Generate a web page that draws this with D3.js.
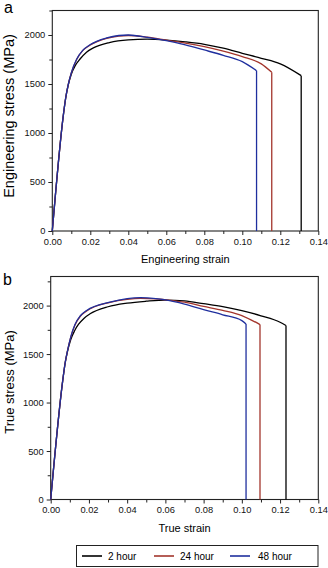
<!DOCTYPE html>
<html>
<head>
<meta charset="utf-8">
<script src="https://cdn.jsdelivr.net/npm/d3@7"></script>
<style>
  body { margin: 0; background: #fff; }
  svg { display: block; font-family: "Liberation Sans", Arial, sans-serif; }
  .axis text { font-size: 9.3px; fill: #111; }
  .axis line { stroke: #222; }
</style>
</head>
<body>
<div id="chart"></div>
<script>
// strain, stress (MPa)
const seriesNames = ["2 hour", "24 hour", "48 hour"]
const colors = ["#000000", "#a3352c", "#1f2f9e"]

const eng2h = [[0,0],[0.0058,1180],[0.0070,1350],[0.0084,1490],[0.0100,1600],[0.0120,1685],[0.0146,1755],[0.018,1825],[0.0216,1868],[0.03,1922],[0.04,1950],[0.05,1957],[0.06,1948],[0.07,1930],[0.08,1905],[0.09,1865],[0.10,1813],[0.11,1762],[0.12,1705],[0.131,1585]]
const eng24h = [[0,0],[0.0058,1180],[0.0070,1352],[0.0084,1495],[0.0100,1612],[0.0128,1750],[0.016,1840],[0.0198,1895],[0.0286,1966],[0.035,1990],[0.04,1995],[0.05,1978],[0.06,1948],[0.07,1918],[0.08,1881],[0.09,1835],[0.10,1779],[0.11,1705],[0.1155,1619]]
const eng48h = [[0,0],[0.0058,1180],[0.0070,1352],[0.0084,1495],[0.0100,1614],[0.0128,1752],[0.016,1843],[0.0198,1900],[0.0286,1970],[0.035,1995],[0.04,2000],[0.05,1976],[0.06,1942],[0.07,1900],[0.08,1847],[0.09,1792],[0.10,1728],[0.1075,1636]]

const true2h = [[0,0],[0.0063,1228],[0.0075,1400],[0.0087,1520],[0.0105,1650],[0.0125,1740],[0.0145,1805],[0.0175,1870],[0.0206,1915],[0.03,1988],[0.04,2025],[0.05,2045],[0.06,2057],[0.07,2048],[0.08,2020],[0.09,1990],[0.10,1949],[0.11,1895],[0.12,1828],[0.1231,1794]]
const true24h = [[0,0],[0.0063,1228],[0.0075,1402],[0.0087,1525],[0.0105,1675],[0.0127,1800],[0.0155,1890],[0.0188,1945],[0.031,2034],[0.04,2065],[0.047,2075],[0.055,2070],[0.06,2060],[0.07,2035],[0.08,1992],[0.09,1950],[0.10,1897],[0.1095,1804]]
const true48h = [[0,0],[0.0063,1228],[0.0075,1402],[0.0087,1525],[0.0105,1677],[0.0127,1805],[0.0155,1895],[0.0188,1950],[0.031,2036],[0.04,2072],[0.047,2082],[0.055,2072],[0.06,2058],[0.07,2015],[0.08,1958],[0.09,1905],[0.10,1845],[0.1022,1811]]

const xMajor = [0, 0.02, 0.04, 0.06, 0.08, 0.10, 0.12, 0.14]
const xMinor = [0.01, 0.03, 0.05, 0.07, 0.09, 0.11, 0.13]
const yMajor = [0, 500, 1000, 1500, 2000]
const yMinor = [250, 750, 1250, 1750, 2250]

const W = 328, H = 568
const svg = d3.select("#chart").append("svg")
    .attr("width", W)
    .attr("height", H)

function panel(opts) {
    const g = svg.append("g")
    const x = d3.scaleLinear().domain([0, 0.14]).range([opts.left, opts.right])
    const y = d3.scaleLinear().domain([0, opts.yMax]).range([opts.bottom, opts.top])

    // minor ticks
    g.append("g").attr("class", "axis")
        .attr("transform", `translate(0,${opts.bottom})`)
        .call(d3.axisBottom(x).tickValues(xMinor).tickSize(3).tickFormat(""))
        .call(a => a.select(".domain").remove())
    g.append("g").attr("class", "axis")
        .attr("transform", `translate(${opts.left},0)`)
        .call(d3.axisLeft(y).tickValues(yMinor).tickSize(3).tickFormat(""))
        .call(a => a.select(".domain").remove())

    g.append("g").attr("class", "axis")
        .attr("transform", `translate(0,${opts.bottom})`)
        .call(d3.axisBottom(x).tickValues(xMajor).tickSize(4).tickPadding(3).tickFormat(d3.format(".2f")))
        .call(a => a.select(".domain").remove())
    g.append("g").attr("class", "axis")
        .attr("transform", `translate(${opts.left},0)`)
        .call(d3.axisLeft(y).tickValues(yMajor).tickSize(4).tickPadding(3).tickFormat(d3.format("d")))
        .call(a => a.select(".domain").remove())

    // frame
    g.append("rect")
        .attr("x", opts.left)
        .attr("y", opts.top)
        .attr("width", opts.right - opts.left)
        .attr("height", opts.bottom - opts.top)
        .attr("fill", "none")
        .attr("stroke", "#222")
        .attr("stroke-width", 1.1)

    const line = d3.line()
        .x(d => x(d[0]))
        .y(d => y(d[1]))
        .curve(d3.curveMonotoneX)
    const drop = d3.line()
        .x(d => x(d[0]))
        .y(d => y(d[1]))

    // draw back to front so blue ends up on top
    opts.data.forEach((s, i) => {
        const last = s[s.length - 1]
        g.append("path")
            .attr("d", line(s))
            .attr("fill", "none")
            .attr("stroke", colors[i])
            .attr("stroke-width", 1.3)
        g.append("path")
            .attr("d", drop([last, [last[0], 0]]))
            .attr("fill", "none")
            .attr("stroke", colors[i])
            .attr("stroke-width", 1.3)
    })

    g.append("text")
        .attr("x", (opts.left + opts.right) / 2)
        .attr("y", opts.bottom + 32)
        .attr("text-anchor", "middle")
        .style("font-size", "11px")
        .text(opts.xLabel)

    g.append("text")
        .attr("transform", `translate(${opts.yLabelX},${opts.yLabelY}) rotate(-90)`)
        .attr("text-anchor", "middle")
        .attr("dominant-baseline", "central")
        .style("font-size", opts.yLabelSize)
        .text(opts.yLabel)

    g.append("text")
        .attr("x", opts.letterX)
        .attr("y", opts.letterY)
        .style("font-size", "16px")
        .text(opts.letter)
}

panel({
    left: 52.3, right: 318.3, top: 10.5, bottom: 231,
    yMax: 2250,
    data: [eng2h, eng24h, eng48h],
    xLabel: "Engineering strain",
    yLabel: "Engineering stress (MPa)",
    yLabelX: 9, yLabelY: 116, yLabelSize: "14.5px",
    letter: "a", letterX: 4, letterY: 13
})

panel({
    left: 50.7, right: 318.3, top: 276.5, bottom: 499.5,
    yMax: 2300,
    data: [true2h, true24h, true48h],
    xLabel: "True strain",
    yLabel: "True stress (MPa)",
    yLabelX: 9, yLabelY: 382, yLabelSize: "13px",
    letter: "b", letterX: 3, letterY: 285
})

// legend
const legend = svg.append("g")
legend.append("rect")
    .attr("x", 76.5).attr("y", 545.5)
    .attr("width", 241.5).attr("height", 21)
    .attr("fill", "none").attr("stroke", "#222").attr("stroke-width", 1)

const legendX = [82, 154, 230]
seriesNames.forEach((name, i) => {
    legend.append("line")
        .attr("x1", legendX[i]).attr("x2", legendX[i] + 20)
        .attr("y1", 556).attr("y2", 556)
        .attr("stroke", colors[i]).attr("stroke-width", 1.6)
    legend.append("text")
        .attr("x", legendX[i] + 26 + (i === 2 ? 2 : 0))
        .attr("y", 559.5)
        .style("font-size", "10px")
        .text(name)
})
</script>
</body>
</html>
